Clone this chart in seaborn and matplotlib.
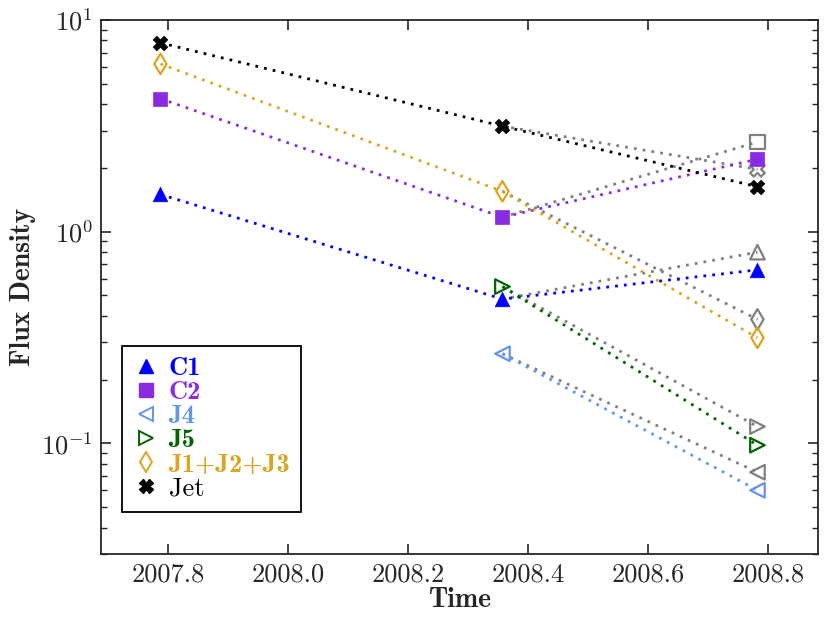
import numpy as np
import pandas as pd
import matplotlib
matplotlib.use("Agg")
import matplotlib.pyplot as plt
from matplotlib.lines import Line2D
import seaborn as sns

# ---- data ----
epochs = [2007.787, 2008.357, 2008.782]
c1 = [1.50, 0.48, 0.66]
c2 = [4.25, 1.17, 2.20]
j4 = [np.nan, 0.265, 0.060]
j5 = [np.nan, 0.55, 0.098]
j123 = [6.2, 1.55, 0.315]
jet = [7.8, 3.15, 1.63]
# grey predicted values at the last epoch (from the 2nd epoch)
pred_c1 = 0.80
pred_c2 = 2.65
pred_j4 = 0.073
pred_j5 = 0.12
pred_j123 = 0.385
pred_jet = 1.97

labels = ["C1", "C2", "J4", "J5", "J1+J2+J3", "Jet"]
xtick_vals = [2007.8, 2008.0, 2008.2, 2008.4, 2008.6, 2008.8]
xtick_labels = ["2007.8", "2008.0", "2008.2", "2008.4", "2008.6", "2008.8"]

sns.set_style("ticks")
plt.rcParams["font.family"] = ["cmr10", "DejaVu Serif"]
plt.rcParams["mathtext.fontset"] = "cm"
plt.rcParams["axes.unicode_minus"] = False
plt.rcParams["axes.formatter.use_mathtext"] = True

fig = plt.figure(figsize=(8.3, 6.24), dpi=100)
ax = fig.add_axes([0.1217, 0.1122, 0.8639, 0.8558])

series = [
    ("C1", c1, pred_c1, "blue", "^", True),
    ("C2", c2, pred_c2, "blueviolet", "s", True),
    ("J4", j4, pred_j4, "cornflowerblue", "<", False),
    ("J5", j5, pred_j5, "darkgreen", ">", False),
    ("J1+J2+J3", j123, pred_j123, "goldenrod", "d", False),
    ("Jet", jet, pred_jet, "black", "X", True),
]

dots = (0, (1, 2.2))

# grey predicted segments first (below)
for name, vals, pred, col, mk, filled in series:
    sns.lineplot(x=[epochs[1], epochs[2]], y=[vals[1], pred], ax=ax,
                 color="gray", linestyle=dots, linewidth=2.0,
                 marker=None, zorder=2)
    sns.scatterplot(x=[epochs[2]], y=[pred], ax=ax, marker=mk, s=110,
                    facecolor="none", edgecolor="gray", linewidth=1.6,
                    zorder=3)

for name, vals, pred, col, mk, filled in series:
    df = pd.DataFrame({"t": epochs, "f": vals}).dropna()
    sns.lineplot(data=df, x="t", y="f", ax=ax, color=col, linestyle=dots,
                 linewidth=2.0, zorder=4)
    if filled:
        sns.scatterplot(data=df, x="t", y="f", ax=ax, marker=mk, s=110,
                        color=col, edgecolor=col, linewidth=0.5, zorder=5)
    else:
        sns.scatterplot(data=df, x="t", y="f", ax=ax, marker=mk, s=110,
                        facecolor="none", edgecolor=col, linewidth=1.6,
                        zorder=5)

ax.set_yscale("log")
ax.set_xlim(2007.688, 2008.883)
ax.set_ylim(0.03, 10)
ax.set_xticks(xtick_vals)
ax.set_xticklabels(xtick_labels)
ax.tick_params(which="both", direction="in", top=True, right=True,
               labelsize=19, pad=6)
ax.tick_params(which="major", length=7, width=1.2)
ax.tick_params(which="minor", length=4, width=1.0)
for sp in ax.spines.values():
    sp.set_linewidth(1.3)
    sp.set_visible(True)

ax.set_xlabel("Time", fontfamily="cmb10", fontsize=20, labelpad=1)
ax.set_ylabel("Flux Density", fontfamily="cmb10", fontsize=20)
ax.yaxis.set_label_coords(-0.09, 0.5)

handles = []
for name, vals, pred, col, mk, filled in series:
    if filled:
        h = Line2D([], [], linestyle="none", marker=mk, markersize=10,
                   color=col, markeredgecolor=col)
    else:
        h = Line2D([], [], linestyle="none", marker=mk, markersize=10,
                   markerfacecolor="none", markeredgecolor=col,
                   markeredgewidth=1.4)
    handles.append(h)

leg = ax.legend(handles, labels, loc="lower left",
                bbox_to_anchor=(0.029, 0.079), frameon=True, fancybox=False,
                edgecolor="black", framealpha=1, handletextpad=0.35,
                borderpad=0.42, labelspacing=0.02, handlelength=1.0,
                borderaxespad=0.0,
                prop={"family": "cmb10", "size": 19})
leg.get_frame().set_linewidth(1.3)
for txt, (name, vals, pred, col, mk, filled) in zip(leg.get_texts(), series):
    txt.set_color(col)
    if name == "Jet":
        txt.set_fontfamily("cmr10")

fig.savefig("out.png", dpi=100)
